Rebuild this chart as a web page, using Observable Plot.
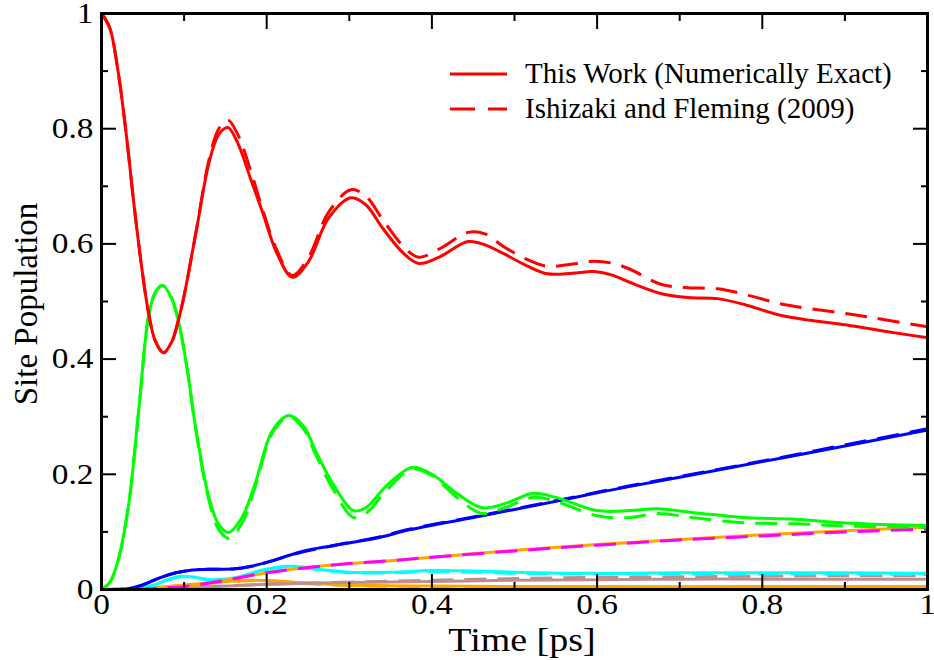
<!DOCTYPE html>
<html><head><meta charset="utf-8">
<script src="https://cdn.jsdelivr.net/npm/d3@7"></script>
<script src="https://cdn.jsdelivr.net/npm/@observablehq/plot@0.6"></script>
<style>body{margin:0;background:#fff}#chart svg{display:block}</style>
</head><body><div id="chart"></div>
<script>
// ---- data ----
const redTime = [0,0.01,0.02,0.03,0.04,0.05,0.057,0.065,0.075,0.085,0.093,0.10,0.115,0.13,0.142,0.153,0.165,0.18,0.195,0.212,0.231,0.25,0.275,0.302,0.32,0.34,0.366,0.384,0.41,0.444,0.465,0.487,0.515,0.54,0.57,0.596,0.62,0.64,0.677,0.71,0.746,0.78,0.822,0.86,0.907,0.95,1.0];
const redExact = [1.0,0.975,0.90,0.79,0.66,0.545,0.48,0.432,0.411,0.43,0.467,0.51,0.625,0.74,0.79,0.802,0.775,0.715,0.655,0.585,0.542,0.568,0.645,0.680,0.668,0.628,0.583,0.566,0.578,0.604,0.598,0.583,0.562,0.548,0.549,0.552,0.545,0.533,0.514,0.507,0.505,0.494,0.476,0.467,0.458,0.448,0.437];
const redIF = [1.0,0.975,0.90,0.79,0.66,0.545,0.48,0.432,0.411,0.43,0.467,0.51,0.625,0.745,0.80,0.815,0.79,0.73,0.66,0.59,0.545,0.575,0.655,0.694,0.683,0.643,0.595,0.577,0.592,0.620,0.617,0.595,0.573,0.561,0.565,0.570,0.566,0.556,0.530,0.524,0.522,0.512,0.496,0.487,0.478,0.468,0.456];

const greenTime = [0,0.01,0.02,0.033,0.045,0.057,0.065,0.074,0.085,0.093,0.104,0.114,0.13,0.142,0.154,0.17,0.186,0.207,0.227,0.245,0.259,0.28,0.305,0.32,0.345,0.376,0.40,0.43,0.461,0.49,0.523,0.55,0.60,0.64,0.673,0.72,0.777,0.84,0.907,1.0];
const greenExact = [0,0.012,0.05,0.149,0.31,0.475,0.515,0.528,0.505,0.467,0.38,0.281,0.16,0.113,0.099,0.125,0.184,0.276,0.302,0.283,0.241,0.184,0.137,0.142,0.18,0.212,0.200,0.167,0.142,0.150,0.167,0.160,0.137,0.137,0.140,0.133,0.125,0.122,0.115,0.111];
const greenIF = [0,0.012,0.05,0.149,0.31,0.475,0.515,0.528,0.505,0.467,0.38,0.278,0.155,0.104,0.089,0.115,0.178,0.272,0.300,0.278,0.235,0.175,0.125,0.132,0.172,0.209,0.198,0.160,0.132,0.143,0.160,0.153,0.128,0.125,0.132,0.124,0.116,0.114,0.110,0.108];

const blueTime = [0,0.03,0.05,0.07,0.09,0.11,0.13,0.162,0.18,0.20,0.243,0.28,0.332,0.374,0.45,0.50,0.55,0.604,0.64,0.70,0.80,0.90,1.0];
const blueExact = [0,0.001,0.008,0.02,0.029,0.034,0.035,0.036,0.04,0.047,0.066,0.076,0.089,0.104,0.125,0.139,0.153,0.169,0.179,0.195,0.222,0.249,0.277];
const blueIF = [0,0.001,0.008,0.02,0.029,0.034,0.035,0.036,0.04,0.047,0.065,0.076,0.090,0.105,0.126,0.140,0.154,0.170,0.180,0.196,0.223,0.251,0.279];

const orangeTime = [0,0.05,0.1,0.134,0.15,0.2,0.25,0.3,0.35,0.4,0.5,0.6,0.7,0.8,0.9,1.0];
const orangeExact = [0,0.001,0.005,0.012,0.016,0.029,0.038,0.045,0.050,0.056,0.068,0.078,0.087,0.095,0.102,0.108];
const magentaIF = [0,0.001,0.005,0.012,0.016,0.029,0.038,0.045,0.050,0.056,0.067,0.077,0.086,0.093,0.100,0.105];

const cyanTime = [0,0.04,0.06,0.08,0.096,0.115,0.132,0.16,0.19,0.215,0.235,0.27,0.30,0.35,0.40,0.45,0.5,0.6,0.7,0.8,0.9,1.0];
const cyanExact = [0,0.001,0.006,0.017,0.023,0.021,0.017,0.020,0.032,0.039,0.040,0.034,0.030,0.030,0.033,0.032,0.030,0.028,0.029,0.029,0.029,0.028];
const cyanIF = [0,0.001,0.006,0.016,0.022,0.020,0.016,0.019,0.031,0.038,0.039,0.033,0.029,0.029,0.031,0.030,0.028,0.027,0.027,0.027,0.027,0.026];

const brownTime = [0,0.05,0.1,0.15,0.2,0.3,0.4,0.5,0.6,0.7,0.8,0.9,1.0];
const brownExact = [0,0.0005,0.003,0.006,0.009,0.012,0.014,0.016,0.017,0.018,0.018,0.018,0.018];
const brownIF = [0,0.0005,0.003,0.006,0.009,0.013,0.016,0.019,0.021,0.022,0.023,0.024,0.024];

const lowTime = [0,0.05,0.1,0.15,0.18,0.21,0.25,0.3,0.4,0.6,0.8,1.0];
const lowExact = [0,0.002,0.008,0.014,0.016,0.015,0.011,0.008,0.006,0.005,0.005,0.005];
const lowIF = [0,0.002,0.007,0.013,0.015,0.014,0.010,0.007,0.005,0.004,0.004,0.004];

const xMajor = [0,0.2,0.4,0.6,0.8,1];
const xTickLabels = ["0","0.2","0.4","0.6","0.8","1"];
const xMinor = [0.1,0.3,0.5,0.7,0.9];
const yMajor = [0,0.2,0.4,0.6,0.8,1];
const yTickLabels = ["0","0.2","0.4","0.6","0.8","1"];
const yMinor = [0.1,0.3,0.5,0.7,0.9];
const legendLabels = ["This Work (Numerically Exact)","Ishizaki and Fleming (2009)"];
const xTitle = "Time [ps]";
const yTitle = "Site Population";

// ---- build ----
const rows = (t, v) => t.map((d, i) => ({t: d, v: v[i]}));
const DASH = "22,11";
const line = (t, v, color, dashed) => Plot.line(rows(t, v), {
  x: "t", y: "v", stroke: color, strokeWidth: 3, curve: "catmull-rom",
  strokeDasharray: dashed ? DASH : null, strokeLinecap: "butt"
});

const FONT = "'Liberation Serif','Times New Roman',serif";

const chart = Plot.plot({
  width: 934, height: 660,
  marginLeft: 101, marginRight: 7, marginTop: 13, marginBottom: 71,
  x: {domain: [0, 1]},
  y: {domain: [0, 1]},
  style: {fontFamily: FONT, fontSize: "29px", color: "black", background: "white"},
  marks: [
    line(lowTime, lowExact, "#ffa500", false),
    line(lowTime, lowIF, "#ffa500", true),
    line(brownTime, brownExact, "#bc8f8f", false),
    line(brownTime, brownIF, "#bc8f8f", true),
    line(cyanTime, cyanExact, "#00ffff", false),
    line(cyanTime, cyanIF, "#00ffff", true),
    line(orangeTime, orangeExact, "#ffa500", false),
    line(orangeTime, magentaIF, "#ff00ff", true),
    line(blueTime, blueExact, "#0000ff", false),
    line(blueTime, blueIF, "#0000ff", true),
    line(greenTime, greenExact, "#00ff00", false),
    line(greenTime, greenIF, "#00ff00", true),
    line(redTime, redExact, "#ff0000", false),
    line(redTime, redIF, "#ff0000", true),
    // inward tick marks on all four sides
    Plot.axisX(xMajor, {anchor: "bottom", tickSize: -15, strokeWidth: 2, text: null, label: null}),
    Plot.axisX(xMinor, {anchor: "bottom", tickSize: -7, strokeWidth: 2, text: null, label: null}),
    Plot.axisX(xMajor, {anchor: "top", tickSize: -15, strokeWidth: 2, text: null, label: null}),
    Plot.axisX(xMinor, {anchor: "top", tickSize: -7, strokeWidth: 2, text: null, label: null}),
    Plot.axisY(yMajor, {anchor: "left", tickSize: -15, strokeWidth: 2, text: null, label: null}),
    Plot.axisY(yMinor, {anchor: "left", tickSize: -7, strokeWidth: 2, text: null, label: null}),
    Plot.axisY(yMajor, {anchor: "right", tickSize: -15, strokeWidth: 2, text: null, label: null}),
    Plot.axisY(yMinor, {anchor: "right", tickSize: -7, strokeWidth: 2, text: null, label: null}),
    // tick labels
    Plot.axisX(xMajor, {anchor: "bottom", tickSize: 0, tickPadding: 4, fontSize: 29,
      tickFormat: d => xTickLabels[xMajor.indexOf(d)], label: null}),
    Plot.axisY(yMajor, {anchor: "left", tickSize: 0, tickPadding: 8, fontSize: 29,
      tickFormat: d => yTickLabels[yMajor.indexOf(d)], label: null}),
    Plot.frame({stroke: "black", strokeWidth: 3})
  ]
});
document.getElementById("chart").appendChild(chart);

// widen glyphs horizontally like the reference (its text is slightly stretched)
function stretch(nodes, k) {
  nodes.forEach(n => {
    const L = n.getComputedTextLength();
    n.setAttribute("textLength", (L * k).toFixed(1));
    n.setAttribute("lengthAdjust", "spacingAndGlyphs");
  });
}
stretch(chart.querySelectorAll('g[aria-label="x-axis tick label"] text, g[aria-label="y-axis tick label"] text'), 1.15);

// axis titles and legend
const svg = d3.select(chart);
const xt = svg.append("text").attr("x", 522).attr("y", 651).attr("text-anchor", "middle")
  .attr("font-family", FONT).attr("font-size", 33).attr("fill", "black").text(xTitle);
stretch([xt.node()], 1.15);
svg.append("text").attr("transform", "translate(37,304) rotate(-90)").attr("text-anchor", "middle")
  .attr("font-family", FONT).attr("font-size", 33).attr("fill", "black").text(yTitle);

const leg = svg.append("g").attr("text-anchor", "start");
legendLabels.forEach((lab, i) => {
  const y = 74 + i * 35;
  leg.append("line").attr("x1", 450).attr("x2", 507).attr("y1", y).attr("y2", y)
    .attr("stroke", "#ff0000").attr("stroke-width", 3)
    .attr("stroke-dasharray", i === 1 ? "25,13" : null);
  leg.append("text").attr("x", 525).attr("y", y + 9).attr("text-anchor", "start")
    .attr("font-family", FONT).attr("font-size", 29).attr("fill", "black").text(lab);
});
</script>
</body></html>
